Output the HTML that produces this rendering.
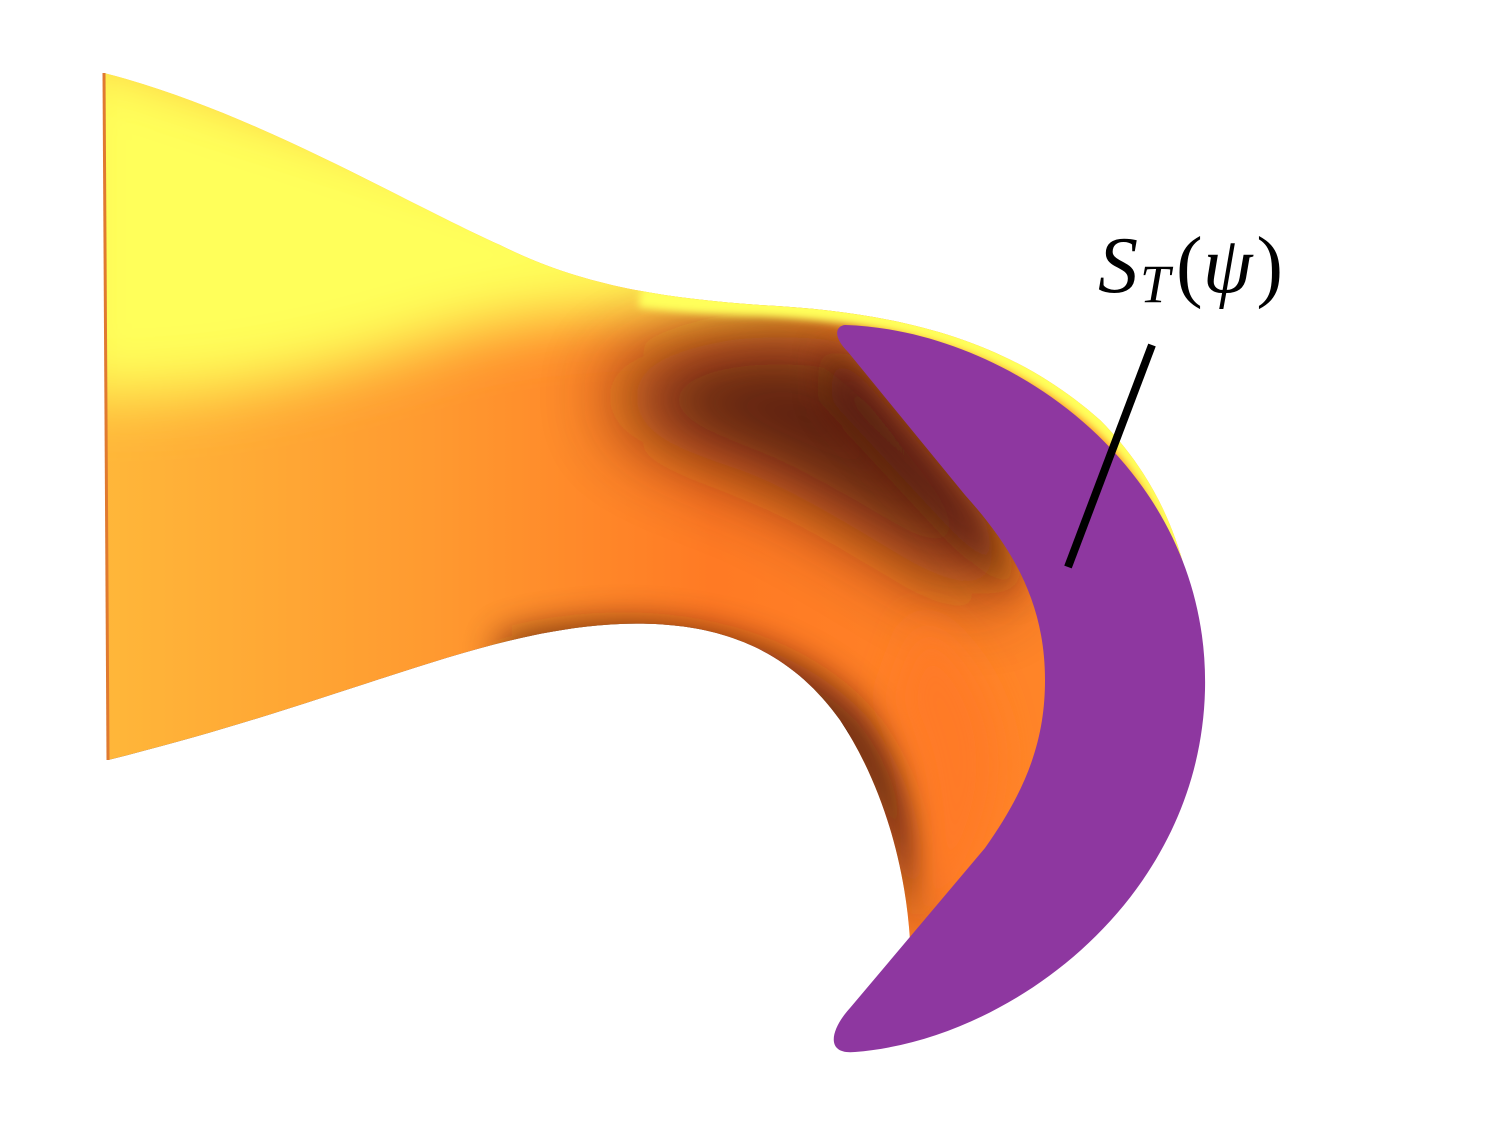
<!DOCTYPE html>
<html><head><meta charset="utf-8"><style>
html,body{margin:0;padding:0;background:#fff;}
svg{display:block;}
</style></head><body>
<svg width="1497" height="1132" viewBox="0 0 1497 1132" xmlns="http://www.w3.org/2000/svg">
<defs>
<linearGradient id="body" x1="0" y1="0" x2="1" y2="0">
<stop offset="0" stop-color="#ffb83a"/>
<stop offset="0.3" stop-color="#ff9a30"/>
<stop offset="0.55" stop-color="#ff7a24"/>
<stop offset="1" stop-color="#ff8a2a"/>
</linearGradient>
<filter id="blur40" x="-50%" y="-50%" width="200%" height="200%"><feGaussianBlur stdDeviation="40"/></filter>
<filter id="blur30" x="-50%" y="-50%" width="200%" height="200%"><feGaussianBlur stdDeviation="30"/></filter>
<filter id="blur15" x="-50%" y="-50%" width="200%" height="200%"><feGaussianBlur stdDeviation="18"/></filter>
<filter id="blur4" x="-20%" y="-20%" width="140%" height="140%"><feGaussianBlur stdDeviation="4"/></filter>
<clipPath id="tube"><path d="M104,73 C250,110 400,200 500,245 C580,285 660,298 760,305 C900,312 1010,340 1100,420 C1180,500 1200,600 1200,700 L1000,1000 L910,940 C905,860 880,780 840,720 C790,650 720,620 620,624 C480,630 350,700 108,760 Z"/></clipPath>
</defs>
<g clip-path="url(#tube)">
<rect x="90" y="60" width="1130" height="960" fill="url(#body)"/>
<path d="M60,40 L860,300 C700,320 560,300 420,345 C300,380 200,400 60,395 Z" fill="#ffff5a" filter="url(#blur30)"/>
<path d="M620,380 C700,330 800,330 850,345 L990,520 C1010,560 1000,600 980,600 C900,560 820,500 740,470 C680,450 600,420 620,380 Z" fill="#4a1808" opacity="0.9" filter="url(#blur40)"/>
<path d="M830,340 L985,520 L1020,600 L960,540 L830,400 Z" fill="#4a1808" opacity="0.8" filter="url(#blur15)"/>
<path d="M500,640 C660,600 800,640 870,720 C920,790 935,870 920,940 C895,850 860,770 800,715 C720,660 620,650 500,670 Z" fill="#4a1808" opacity="0.85" filter="url(#blur15)"/>
<path d="M108,760 C350,700 480,630 620,624 C720,620 790,650 840,720 L850,735 C790,660 720,632 620,636 C480,642 350,712 108,768 Z" fill="#3a1406"/>
<path d="M920,620 C980,660 1010,730 995,800 C980,870 945,920 915,940 C930,850 925,760 890,700 Z" fill="#ff7a26" filter="url(#blur15)"/>
<path d="M640,296 C680,302 720,304 760,305 C900,312 1010,340 1100,420 C1150,465 1175,520 1190,570" fill="none" stroke="#ffff5a" stroke-width="22" filter="url(#blur4)"/>
</g>
<path d="M104,73 L108,760" stroke="#e07a30" stroke-width="3"/>
<path d="M845,325 C1010,330 1210,470 1205,690 C1200,900 1010,1040 855,1052 C825,1055 830,1030 850,1008 L985,848 C1030,785 1045,735 1045,680 C1045,600 1010,545 965,495 L848,352 C832,336 836,326 845,325 Z" fill="#8e37a0"/>
<line x1="1152" y1="345" x2="1068" y2="567" stroke="#000" stroke-width="8"/>
<text x="1098" y="292" font-family="Liberation Serif, serif" font-style="italic" font-size="80" fill="#000">S<tspan font-size="54" dy="10" dx="2">T</tspan><tspan dy="-10" dx="6" font-style="normal">(</tspan>ψ<tspan font-style="normal" dx="4">)</tspan></text>
</svg>
</body></html>
